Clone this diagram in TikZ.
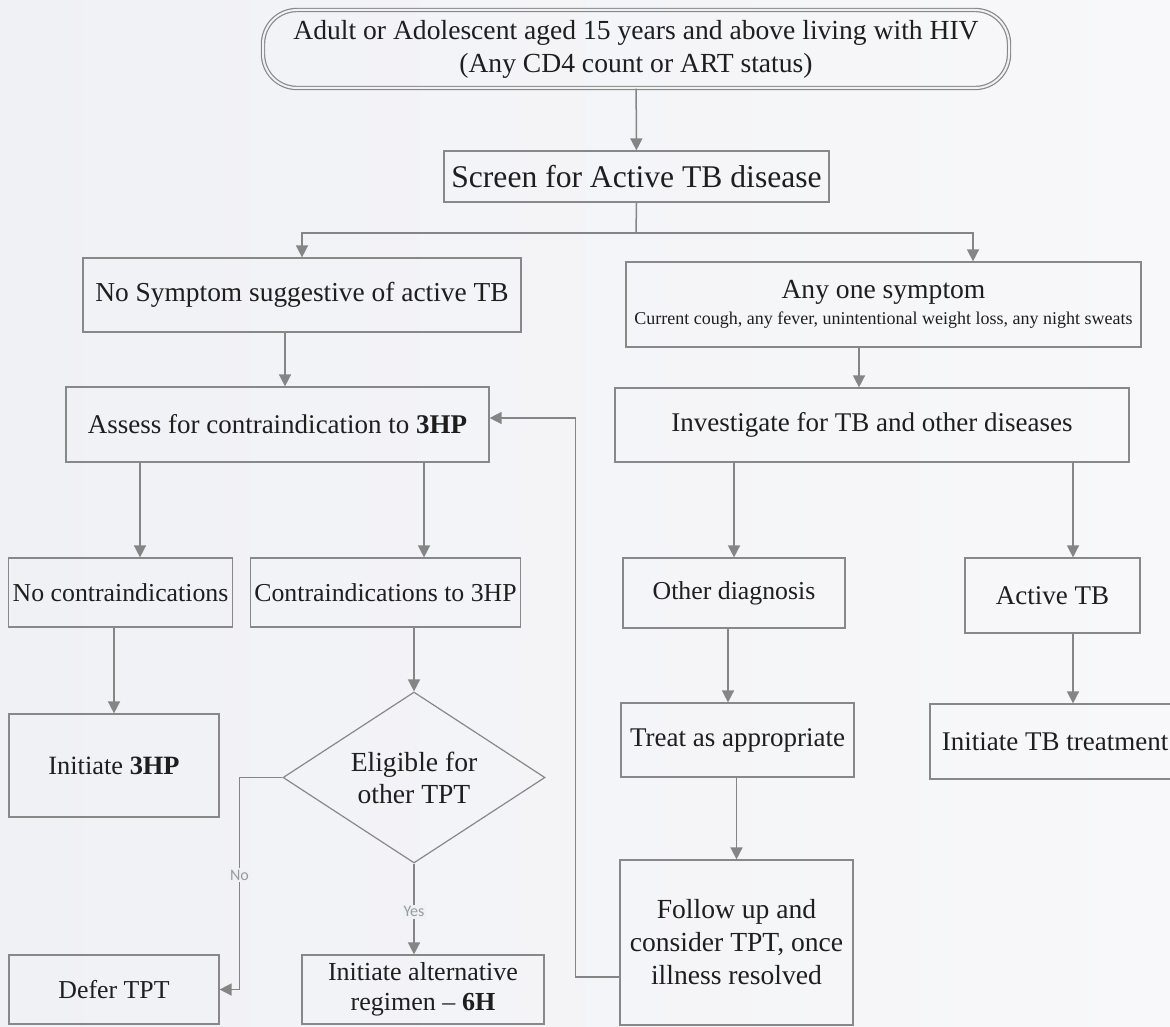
\documentclass[tikz,border=0pt]{standalone}
\usepackage{fontspec}
\setmainfont{Liberation Serif}
\newfontfamily\lblfont{Carlito}
\usetikzlibrary{shapes.geometric,arrows.meta,calc}
\definecolor{bg}{HTML}{F0F1F5}
\definecolor{bgr}{HTML}{F8F8FA}
\definecolor{boxgray}{HTML}{888888}
\definecolor{arrgray}{HTML}{858585}
\definecolor{ink}{HTML}{1E1E1E}
\definecolor{lblgray}{HTML}{9A9A9A}
\begin{document}
\begin{tikzpicture}[x=0.5pt,y=-0.5pt,
  box/.style={draw=boxgray, line width=0.6pt, align=center, inner sep=2pt, text=ink,
              font=\fontsize{13.5}{16}\selectfont},
  sm/.style={font=\fontsize{12.9}{15}\selectfont},
  arr/.style={draw=arrgray, line width=0.75pt, -{Triangle[length=6pt,width=6pt]}},
  lbl/.style={fill=bg, text=lblgray, font=\lblfont\fontsize{8}{9}\selectfont, inner sep=1pt}]
\shade[left color=bg, right color=bgr] (0,0) rectangle (1170,1026);
\useasboundingbox (0,0) rectangle (1170,1026);

% nodes
\node[box, minimum width=373pt, minimum height=39pt, rounded corners=17pt,
      double=bg, double distance=1pt, font=\fontsize{13.8}{16.5}\selectfont] (top) at (636,49)
  {Adult or Adolescent aged 15 years and above living with HIV\\(Any CD4 count or ART status)};
\node[box, minimum width=192.5pt, minimum height=25.5pt, font=\fontsize{15.8}{18}\selectfont] (screen) at (636.5,176.5)
  {Screen for Active TB disease};
\node[box, minimum width=219pt, minimum height=37pt, font=\fontsize{13.7}{16}\selectfont] (nosym) at (302,295)
  {No Symptom suggestive of active TB};
\node[box, minimum width=257.5pt, minimum height=42.5pt, font=\fontsize{13.8}{16}\selectfont] (anyone) at (883.5,304.5)
  {Any one symptom\\[-3pt]{\fontsize{9}{10}\selectfont Current cough, any fever, unintentional weight loss, any night sweats}};
\node[box, minimum width=211.5pt, minimum height=37.5pt] (assess) at (277.5,424.5)
  {Assess for contraindication to \textbf{3HP}};
\node[box, minimum width=257pt, minimum height=37pt] (invest) at (872,425)
  {Investigate for TB and other diseases};
\node[box, sm, minimum width=110.5pt, minimum height=34.5pt] (nocontra) at (120.5,592.5)
  {No contraindications};
\node[box, sm, minimum width=134.5pt, minimum height=34.5pt] (contra) at (385.5,592.5)
  {Contraindications to 3HP};
\node[box, sm, minimum width=111pt, minimum height=35pt] (otherdx) at (734,593)
  {Other diagnosis};
\node[box, minimum width=87.5pt, minimum height=37.5pt] (activetb) at (1052.5,595.5)
  {Active TB};
\node[box, font=\fontsize{13.2}{16}\selectfont, minimum width=105pt, minimum height=51.5pt] (init3hp) at (114,765.5)
  {Initiate \textbf{3HP}};
\node[box, diamond, aspect=1.53, inner sep=0pt, minimum width=131pt, minimum height=85.5pt,
      font=\fontsize{13.8}{16}\selectfont] (dia) at (414,777.5)
  {Eligible for\\other TPT};
\node[box, minimum width=116.5pt, minimum height=37pt] (treat) at (737.5,740)
  {Treat as appropriate};
\node[box, minimum width=125pt, minimum height=37.5pt] (inittb) at (1055,741.5)
  {Initiate TB treatment};
\node[box, sm, minimum width=105pt, minimum height=34.5pt] (defer) at (114,989.5)
  {Defer TPT};
\node[box, font=\fontsize{13}{15}\selectfont, minimum width=121pt, minimum height=34.5pt] (initalt) at (423,989.5)
  {Initiate alternative\\regimen -- \textbf{6H}};
\node[box, font=\fontsize{13.8}{16.5}\selectfont, minimum width=116.5pt, minimum height=82.5pt] (follow) at (736.5,942.5)
  {Follow up and\\consider TPT, once\\illness resolved};

% connectors
\draw[arr] (top) -- (screen);
\coordinate (br) at (636,233);
\draw[draw=arrgray, line width=0.75pt] (screen.south) -- (br);
\draw[arr] (br) -| (nosym.north);
\draw[arr] (br) -| ([xshift=44.75pt]anyone.north);

\coordinate (a1) at ([xshift=-8.5pt]nosym.south);
\draw[arr] (a1) -- (a1 |- assess.north);

\coordinate (a2) at ([xshift=-68.75pt]assess.south);
\draw[arr] (a2) -- (a2 |- nocontra.north);
\coordinate (a3) at ([xshift=73.25pt]assess.south);
\draw[arr] (a3) -- (a3 |- contra.north);

\draw[arr] (init3hp.north |- nocontra.south) -- (init3hp.north);
\draw[arr] (dia.north |- contra.south) -- (dia.north);

\draw[arr] (dia.west) -- ++(-43,0) |- node[lbl, pos=0.23]{No} (defer.east);
\draw[arr] (dia.south) -- node[lbl, pos=0.53]{Yes} (dia.south |- initalt.north);

\coordinate (a4) at ([xshift=-12.25pt]anyone.south);
\draw[arr] (a4) -- (a4 |- invest.north);
\draw[arr] (otherdx.north |- invest.south) -- (otherdx.north);
\coordinate (a5) at ([xshift=10.25pt]activetb.north);
\draw[arr] (a5 |- invest.south) -- (a5);

\coordinate (a6) at ([xshift=-3pt]otherdx.south);
\draw[arr] (a6) -- (a6 |- treat.north);
\draw[arr] (follow.north |- treat.south) -- (follow.north);
\draw[arr] (a5 |- activetb.south) -- (a5 |- inittb.north);

\coordinate (fb) at ([yshift=-17.25pt]follow.west);
\coordinate (fa) at ([yshift=3.25pt]assess.east);
\draw[arr] (fb) -- ++(-44,0) |- (fa);
\end{tikzpicture}
\end{document}
